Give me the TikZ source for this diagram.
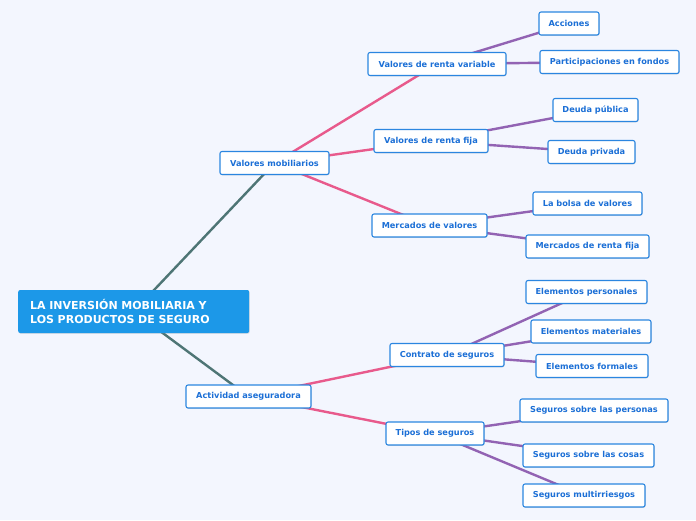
\documentclass[tikz,border=0pt]{standalone}
\usepackage{fontspec}
\setmainfont{DejaVu Sans}
\usetikzlibrary{backgrounds,shadows}
\definecolor{bgc}{HTML}{F3F6FE}
\definecolor{rootc}{HTML}{1C98E8}
\definecolor{boxborder}{HTML}{2B86E0}
\definecolor{boxtext}{HTML}{1B6FD6}
\definecolor{tealc}{HTML}{4E7575}
\definecolor{pinkc}{HTML}{E85A8C}
\definecolor{purpc}{HTML}{9263B3}
\tikzset{
  rootbox/.style={fill=rootc, text=white, font=\bfseries\fontsize{11}{14.5}\selectfont,
    rounded corners=2pt, inner xsep=12pt, inner ysep=0pt, minimum height=43pt,
    text width=207pt, align=left, anchor=west,
    drop shadow={opacity=0.2, shadow xshift=0.6pt, shadow yshift=-0.8pt}},
  topic/.style={draw=boxborder, line width=1.1pt, fill=white, text=boxtext,
    font=\bfseries\fontsize{8.2}{9}\selectfont, rounded corners=2pt,
    minimum height=23pt, inner xsep=0pt, inner ysep=0pt,
    drop shadow={opacity=0.25, shadow xshift=0.6pt, shadow yshift=-0.8pt}},
  tealline/.style={draw=tealc, line width=2.4pt},
  pinkline/.style={draw=pinkc, line width=2.4pt},
  purpline/.style={draw=purpc, line width=2.4pt},
}
\begin{document}
\begin{tikzpicture}[x=1pt,y=-1pt]
\useasboundingbox (0,0) rectangle (696,520);

\node[rootbox] (root) at (18,311.5) {LA INVERSIÓN MOBILIARIA Y\\LOS PRODUCTOS DE SEGURO};

\node[topic, minimum width=109pt] (vm) at (274.5,163) {Valores mobiliarios};
\node[topic, minimum width=125pt] (aa) at (248.5,396.5) {Actividad aseguradora};

\node[topic, minimum width=138pt] (rv) at (437,64) {Valores de renta variable};
\node[topic, minimum width=114pt] (rf) at (431,141) {Valores de renta fija};
\node[topic, minimum width=115pt] (mv) at (429.5,225.5) {Mercados de valores};
\node[topic, minimum width=114pt] (cs) at (447,355) {Contrato de seguros};
\node[topic, minimum width=98pt] (ts) at (435,433.5) {Tipos de seguros};

\node[topic, minimum width=60pt] (acc) at (569,23.5) {Acciones};
\node[topic, minimum width=139pt] (pf) at (609.5,62) {Participaciones en fondos};
\node[topic, minimum width=85pt] (dpu) at (595.5,110) {Deuda pública};
\node[topic, minimum width=87pt] (dpr) at (591.5,152) {Deuda privada};
\node[topic, minimum width=109pt] (lbv) at (587.5,203.5) {La bolsa de valores};
\node[topic, minimum width=123pt] (mrf) at (587.5,246.5) {Mercados de renta fija};
\node[topic, minimum width=121pt] (ep) at (586.5,292) {Elementos personales};
\node[topic, minimum width=120pt] (em) at (591,331.5) {Elementos materiales};
\node[topic, minimum width=112pt] (ef) at (592,366) {Elementos formales};
\node[topic, minimum width=148pt] (ssp) at (594,410.5) {Seguros sobre las personas};
\node[topic, minimum width=131pt] (ssc) at (588.5,455.5) {Seguros sobre las cosas};
\node[topic, minimum width=122pt] (smr) at (584,495.5) {Seguros multirriesgos};

\begin{scope}[on background layer]
\fill[bgc] (0,0) rectangle (696,520);
\draw[tealline] (root.center) -- (vm.center);
\draw[tealline] (root.center) -- (aa.center);
\draw[pinkline] (vm.center) -- (rv.center);
\draw[pinkline] (vm.center) -- (rf.center);
\draw[pinkline] (vm.center) -- (mv.center);
\draw[pinkline] (aa.center) -- (cs.center);
\draw[pinkline] (aa.center) -- (ts.center);
\draw[purpline] (rv.center) -- (acc.center);
\draw[purpline] (rv.center) -- (pf.center);
\draw[purpline] (rf.center) -- (dpu.center);
\draw[purpline] (rf.center) -- (dpr.center);
\draw[purpline] (mv.center) -- (lbv.center);
\draw[purpline] (mv.center) -- (mrf.center);
\draw[purpline] (cs.center) -- (ep.center);
\draw[purpline] (cs.center) -- (em.center);
\draw[purpline] (cs.center) -- (ef.center);
\draw[purpline] (ts.center) -- (ssp.center);
\draw[purpline] (ts.center) -- (ssc.center);
\draw[purpline] (ts.center) -- (smr.center);
\end{scope}
\end{tikzpicture}
\end{document}
